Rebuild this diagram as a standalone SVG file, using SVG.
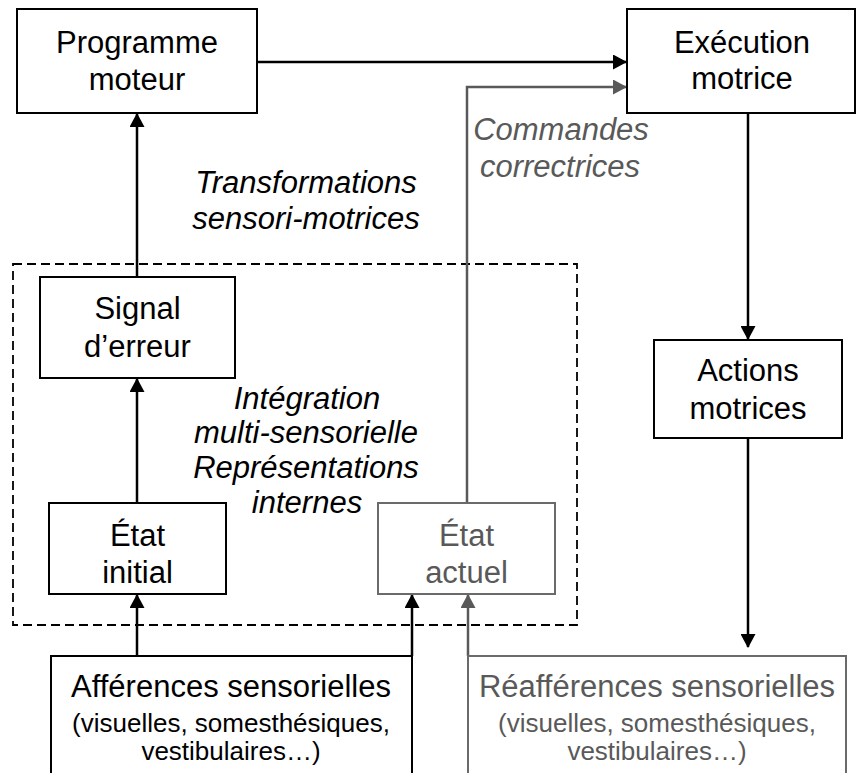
<svg xmlns="http://www.w3.org/2000/svg" width="857" height="773" viewBox="0 0 857 773">
<defs>
<style>
.box{fill:#fff;stroke:#000;stroke-width:2}
.gbox{fill:#fff;stroke:#6a6a6a;stroke-width:2}
.t{font-family:"Liberation Sans",Arial,sans-serif;font-size:31px;fill:#000;text-anchor:middle}
.g{fill:#595959}
.i{font-style:italic}
.s{font-size:26px}
.ln{fill:none;stroke:#000;stroke-width:2.5}
.gln{fill:none;stroke:#595959;stroke-width:2.5}
.dash{fill:none;stroke:#000;stroke-width:1.8;stroke-dasharray:9 5}
</style>
<marker id="ah" markerWidth="14" markerHeight="15" refX="13" refY="7.5" orient="auto" markerUnits="userSpaceOnUse"><path d="M0,0 L14,7.5 L0,15 Z" fill="#000"/></marker>
<marker id="ahg" markerWidth="14" markerHeight="15" refX="13" refY="7.5" orient="auto" markerUnits="userSpaceOnUse"><path d="M0,0 L14,7.5 L0,15 Z" fill="#595959"/></marker>
</defs>
<rect width="857" height="773" fill="#fff"/>
<rect id="group-box" class="dash" x="13" y="264" width="564" height="361"/>
<g id="connectors">
<path class="ln" d="M257,62 H626" marker-end="url(#ah)"/>
<path class="ln" d="M137,277 V114" marker-end="url(#ah)"/>
<path class="ln" d="M137,503 V379" marker-end="url(#ah)"/>
<path class="ln" d="M137,656 V595" marker-end="url(#ah)"/>
<path class="ln" d="M412,656 V595" marker-end="url(#ah)"/>
<path class="gln" d="M468,656 V595" marker-end="url(#ahg)"/>
<path class="gln" d="M467,503 V87 H626" marker-end="url(#ahg)"/>
<path class="ln" d="M748,113 V339" marker-end="url(#ah)"/>
<path class="ln" d="M748,438 V647" marker-end="url(#ah)"/>
</g>
<g id="programme-moteur">
<rect class="box" x="17" y="9" width="240" height="104"/>
<text class="t" x="137" y="53">Programme</text>
<text class="t" x="137" y="90">moteur</text>
</g>
<g id="execution-motrice">
<rect class="box" x="627" y="9" width="228" height="104"/>
<text class="t" x="742" y="53">Exécution</text>
<text class="t" x="742" y="89">motrice</text>
</g>
<g id="transformations">
<text class="t i" x="306" y="193">Transformations</text>
<text class="t i" x="306" y="229">sensori-motrices</text>
</g>
<g id="commandes-correctrices">
<text class="t i g" x="561" y="140">Commandes</text>
<text class="t i g" x="560" y="177">correctrices</text>
</g>
<g id="signal-erreur">
<rect class="box" x="40" y="277" width="195" height="101"/>
<text class="t" x="137.5" y="319">Signal</text>
<text class="t" x="137.5" y="357">d’erreur</text>
</g>
<g id="integration">
<text class="t i" x="307" y="409">Intégration</text>
<text class="t i" x="306" y="443">multi-sensorielle</text>
<text class="t i" x="306" y="478">Représentations</text>
<text class="t i" x="307" y="513">internes</text>
</g>
<g id="actions-motrices">
<rect class="box" x="654" y="340" width="188" height="98"/>
<text class="t" x="748" y="381">Actions</text>
<text class="t" x="748" y="419">motrices</text>
</g>
<g id="etat-initial">
<rect class="box" x="49" y="503" width="177" height="91"/>
<text class="t" x="137.5" y="546">État</text>
<text class="t" x="137.5" y="583">initial</text>
</g>
<g id="etat-actuel">
<rect class="gbox" x="378" y="503" width="177" height="91"/>
<text class="t g" x="466.5" y="546">État</text>
<text class="t g" x="466.5" y="583">actuel</text>
</g>
<g id="afferences">
<rect class="box" x="51" y="656" width="361" height="140"/>
<text class="t" x="231" y="697">Afférences sensorielles</text>
<text class="t s" x="231" y="732">(visuelles, somesthésiques,</text>
<text class="t s" x="231" y="760">vestibulaires…)</text>
</g>
<g id="reafferences">
<rect class="gbox" x="468" y="656" width="378" height="140"/>
<text class="t g" x="657" y="697">Réafférences sensorielles</text>
<text class="t s g" x="657" y="732">(visuelles, somesthésiques,</text>
<text class="t s g" x="657" y="760">vestibulaires…)</text>
</g>
</svg>
